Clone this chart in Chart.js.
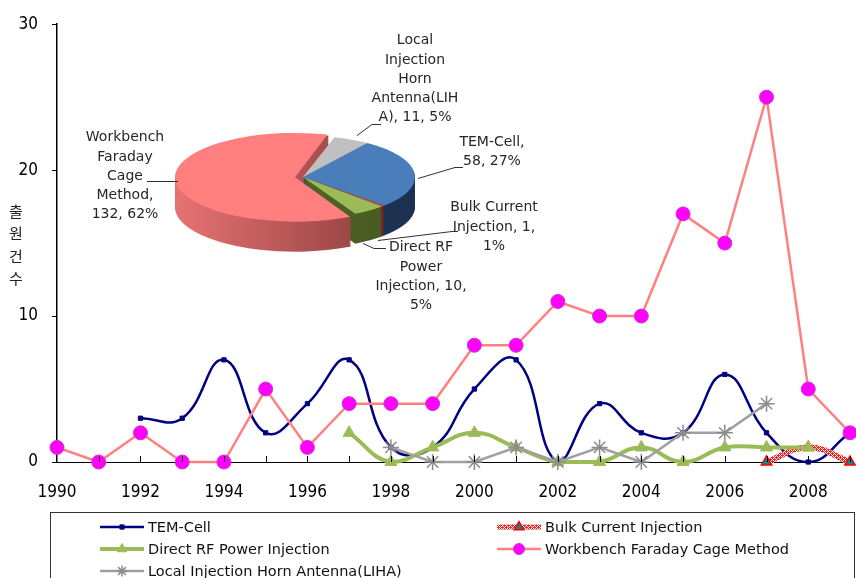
<!DOCTYPE html>
<html>
<head>
<meta charset="utf-8">
<script src="https://cdn.jsdelivr.net/npm/chart.js@4.4.1/dist/chart.umd.min.js"></script>
<style>
  html, body { margin: 0; padding: 0; background: #fff; }
  #wrap { position: relative; width: 856px; height: 578px; overflow: hidden; }
  canvas { position: absolute; left: 0; top: 0; }
  #pie { pointer-events: none; }
</style>
</head>
<body>
<div id="wrap">
  <canvas id="line" width="856" height="578"></canvas>
  <canvas id="pie" width="856" height="578"></canvas>
</div>
<script>
// ---- data ----
const years = ['1990','1991','1992','1993','1994','1995','1996','1997','1998','1999',
               '2000','2001','2002','2003','2004','2005','2006','2007','2008','2009'];
const temCell     = [null, null, 3, 3, 7, 2, 4, 7, 1, 1, 5, 7, 0, 4, 2, 2, 6, 2, 0, 2];
const bulkCurrent = [null, null, null, null, null, null, null, null, null, null,
                     null, null, null, null, null, null, null, 0, 1, 0];
const directRF    = [null, null, null, null, null, null, null, 2, 0, 1, 2, 1, 0, 0, 1, 0, 1, 1, 1, null];
const workbench   = [1, 0, 2, 0, 0, 5, 1, 4, 4, 4, 8, 8, 11, 10, 10, 17, 15, 25, 5, 2];
const liha        = [null, null, null, null, null, null, null, null, 1, 0, 0, 1, 0, 1, 0, 2, 2, 4, null, null];
const yTicks = [0, 10, 20, 30];
const yTitle = '출원건수';

const pieNames  = ['TEM-Cell', 'Bulk Current Injection', 'Direct RF Power Injection',
                   'Workbench Faraday Cage Method', 'Local Injection Horn Antenna(LIHA)'];
const pieCounts = [58, 1, 10, 132, 11];
const pieShares = [27, 1, 5, 62, 5];

// ---- styles ----
const TICK_FONT = "'Liberation Sans Narrow','DejaVu Sans Condensed','Liberation Sans',sans-serif";
const TEXT_FONT = "'DejaVu Sans',sans-serif";

function makeHatch() {
  const c = document.createElement('canvas');
  c.width = 4; c.height = 4;
  const g = c.getContext('2d');
  g.fillStyle = '#ffffff';
  g.fillRect(0, 0, 4, 4);
  g.fillStyle = '#ff1a1a';
  for (let y = 0; y < 4; y++) for (let x = 0; x < 4; x++) if ((x + y) % 2 === 0) g.fillRect(x, y, 1, 1);
  g.fillRect(0, 1, 1, 1); g.fillRect(2, 3, 1, 1);
  return g.createPattern(c, 'repeat');
}
const hatch = makeHatch();

// inside tick marks, stacked axis title and a two-column legend box
const lineExtras = {
  id: 'lineExtras',
  afterDraw(chart) {
    const ctx = chart.ctx;
    const xs = chart.scales.x;
    const area = chart.chartArea;
    ctx.save();
    ctx.strokeStyle = '#000';
    ctx.lineWidth = 1;
    for (let i = 1; i < years.length; i++) {
      const px = Math.round(xs.getPixelForValue(i)) + 0.5;
      ctx.beginPath();
      ctx.moveTo(px, area.bottom);
      ctx.lineTo(px, area.bottom - 6);
      ctx.stroke();
    }
    // vertical axis title, one syllable per line
    ctx.fillStyle = '#222';
    ctx.font = "15px 'Noto Sans CJK KR', sans-serif";
    ctx.textAlign = 'center';
    ctx.textBaseline = 'middle';
    [...yTitle].forEach((ch, i) => ctx.fillText(ch, 16, 211 + i * 22.5));

    // legend
    ctx.strokeStyle = '#333';
    ctx.strokeRect(50.5, 512.5, 804, 90);
    const slots = [[100, 527], [497, 527], [100, 549], [497, 549], [100, 571]];
    ctx.font = '14.5px ' + TEXT_FONT;
    ctx.textAlign = 'left';
    chart.data.datasets.forEach((ds, i) => {
      const [x, y] = slots[i];
      ctx.save();
      ctx.strokeStyle = ds.borderColor;
      ctx.lineWidth = Math.min(ds.borderWidth, 5);
      ctx.beginPath();
      ctx.moveTo(x, y); ctx.lineTo(x + 44, y);
      ctx.stroke();
      ctx.fillStyle = ds.pointBackgroundColor || ds.borderColor;
      ctx.strokeStyle = ds.pointBorderColor || ds.borderColor;
      ctx.lineWidth = ds.pointBorderWidth || 1;
      Chart.helpers.drawPoint(ctx, {
        pointStyle: ds.pointStyle, radius: Math.min(ds.pointRadius, 5.5),
        rotation: 0, borderWidth: ds.pointBorderWidth || 1
      }, x + 22, y);
      ctx.restore();
      ctx.fillStyle = '#111';
      ctx.fillText(ds.label, x + 48, y + 1);
    });
    ctx.restore();
  }
};

new Chart(document.getElementById('line'), {
  type: 'line',
  data: {
    labels: years,
    datasets: [
      { label: 'TEM-Cell', data: temCell, borderColor: '#000080', backgroundColor: '#000080',
        pointBackgroundColor: '#000080', pointBorderColor: '#000080',
        borderWidth: 2.5, tension: 0.45, pointStyle: 'rect', pointRadius: 3, pointBorderWidth: 1,
        order: 5, clip: false },
      { label: 'Bulk Current Injection', data: bulkCurrent, borderColor: hatch,
        borderWidth: 6, tension: 0.45, pointStyle: 'triangle', pointRadius: 6,
        pointBackgroundColor: '#008b8b', pointBorderColor: '#ff0000', pointBorderWidth: 1.5,
        order: 4, clip: false },
      { label: 'Direct RF Power Injection', data: directRF, borderColor: '#9BBB59', backgroundColor: '#9BBB59',
        pointBackgroundColor: '#9BBB59', pointBorderColor: '#9BBB59',
        borderWidth: 4, tension: 0.45, pointStyle: 'triangle', pointRadius: 7, pointBorderWidth: 1,
        order: 3, clip: false },
      { label: 'Workbench Faraday Cage Method', data: workbench, borderColor: '#FF8080',
        borderWidth: 2.5, tension: 0, pointStyle: 'circle', pointRadius: 7,
        pointBackgroundColor: '#FF00FF', pointBorderColor: '#CC33CC', pointBorderWidth: 1,
        order: 2, clip: false },
      { label: 'Local Injection Horn Antenna(LIHA)', data: liha, borderColor: '#A0A0A0',
        borderWidth: 2.5, tension: 0, pointStyle: 'star', pointRadius: 8,
        pointBackgroundColor: '#A0A0A0', pointBorderColor: '#8C8C8C', pointBorderWidth: 1.5,
        order: 1, clip: false }
    ]
  },
  options: {
    responsive: false,
    animation: false,
    events: [],
    layout: { autoPadding: false, padding: { top: 17, right: 6, left: 0, bottom: 0 } },
    plugins: { legend: { display: false }, tooltip: { enabled: false } },
    scales: {
      x: {
        grid: { display: true, drawOnChartArea: false, drawTicks: true, tickLength: 19, color: 'rgba(0,0,0,0)' },
        border: { display: true, color: '#000', width: 1 },
        ticks: {
          autoSkip: false, maxRotation: 0, padding: 1, color: '#000',
          font: { family: TICK_FONT, size: 17 },
          callback: (v, i) => (i % 2 === 0 ? years[i] : '')
        },
        afterFit: s => { s.height = 116; s.paddingLeft = 0; s.paddingRight = 0; }
      },
      y: {
        min: yTicks[0], max: yTicks[yTicks.length - 1],
        afterBuildTicks: s => { s.ticks = yTicks.map(v => ({ value: v })); },
        ticks: { padding: 14, color: '#000', font: { family: TICK_FONT, size: 17 } },
        grid: { drawOnChartArea: false, tickLength: 5, color: '#000' },
        border: { color: '#000', width: 1.5 },
        afterFit: s => { s.width = 57; }
      }
    }
  },
  plugins: [lineExtras]
});

// ---- 3D-looking pie inset ----
const PIE_CX = 303, PIE_CY = 177, PIE_R = 112, SQUISH = 0.37, DEPTH = 30;
const topColors = ['#4A7EBB', '#C0504D', '#9BBB59', '#FF7F7F', '#C0C0C0'];
const sideStops = [
  ['#2a4a75', '#1b2f4d'],
  ['#8b2a2a', '#6e1f1f'],
  ['#5d7330', '#45561f'],
  ['#e87474', '#7e3434'],
  ['#9a9a9a', '#777777']
];
const labelSpec = [
  { lines: ['TEM-Cell,', pieCounts[0] + ', ' + pieShares[0] + '%'], x: 492, y: [142, 161],
    leader: [[418, 178], [455, 167], [463, 167]] },
  { lines: ['Bulk Current', 'Injection, ' + pieCounts[1] + ',', pieShares[1] + '%'], x: 494, y: [207, 227, 246],
    leader: [[378, 240], [452, 231], [458, 231]] },
  { lines: ['Direct RF', 'Power', 'Injection, ' + pieCounts[2] + ',', pieShares[2] + '%'], x: 421, y: [247, 267, 286, 305],
    leader: [[363, 243], [374, 248], [386, 248]] },
  { lines: ['Workbench', 'Faraday', 'Cage', 'Method,', pieCounts[3] + ', ' + pieShares[3] + '%'], x: 125, y: [137, 157, 176, 195, 214],
    leader: [[147, 181], [178, 181]] },
  { lines: ['Local', 'Injection', 'Horn', 'Antenna(LIH', 'A), ' + pieCounts[4] + ', ' + pieShares[4] + '%'], x: 415, y: [40, 60, 79, 98, 117],
    leader: [[381, 124], [372, 124], [357, 135]] }
];

function arcGeom(a) {
  const off = (a.options.offset || 0) / 4;
  const half = (a.startAngle + a.endAngle) / 2;
  const circ = a.endAngle - a.startAngle;
  const fix = 1 - Math.sin(Math.min(Math.PI, circ));
  return { x: a.x + Math.cos(half) * off, y: a.y + Math.sin(half) * off,
           r: a.outerRadius + off * fix, s: a.startAngle, e: a.endAngle };
}
function squish(ctx, cx, cy) {
  ctx.translate(cx, cy);
  ctx.scale(1, SQUISH);
  ctx.translate(-cx, -cy);
}

const pie3d = {
  id: 'pie3d',
  beforeDatasetsDraw(chart) {
    const ctx = chart.ctx;
    const arcs = chart.getDatasetMeta(0).data;
    const cx = arcs[0].x, cy = arcs[0].y;
    const fills = sideStops.map(st => {
      const g = ctx.createLinearGradient(cx - PIE_R - 20, 0, cx + PIE_R + 10, 0);
      g.addColorStop(0, st[0]);
      g.addColorStop(1, st[1]);
      return g;
    });
    for (let d = DEPTH; d >= 1; d--) {
      arcs.forEach((a, i) => {
        const g = arcGeom(a);
        ctx.save();
        ctx.translate(0, d);
        squish(ctx, cx, cy);
        ctx.beginPath();
        ctx.moveTo(g.x, g.y);
        ctx.arc(g.x, g.y, g.r, g.s, g.e);
        ctx.closePath();
        ctx.fillStyle = fills[i];
        ctx.fill();
        ctx.restore();
      });
    }
    ctx.save();
    squish(ctx, cx, cy);
  },
  afterDatasetsDraw(chart) {
    chart.ctx.restore();
  },
  afterDraw(chart) {
    const ctx = chart.ctx;
    ctx.save();
    ctx.strokeStyle = '#303030';
    ctx.lineWidth = 1;
    ctx.fillStyle = '#262626';
    ctx.font = '14px ' + TEXT_FONT;
    ctx.textAlign = 'center';
    ctx.textBaseline = 'middle';
    labelSpec.forEach(spec => {
      ctx.beginPath();
      spec.leader.forEach((p, j) => (j ? ctx.lineTo(p[0], p[1] + 0.5) : ctx.moveTo(p[0], p[1] + 0.5)));
      ctx.stroke();
      spec.lines.forEach((t, j) => ctx.fillText(t, spec.x, spec.y[j]));
    });
    ctx.restore();
  }
};

new Chart(document.getElementById('pie'), {
  type: 'pie',
  data: {
    labels: pieNames,
    datasets: [{
      data: pieCounts,
      backgroundColor: topColors,
      borderWidth: 0,
      offset: [0, 0, 0, 32, 0],
      clip: false
    }]
  },
  options: {
    responsive: false,
    animation: false,
    events: [],
    rotation: 35,
    radius: PIE_R,
    layout: { autoPadding: false, padding: { left: 0, top: 0, right: 856 - 2 * PIE_CX, bottom: 578 - 2 * PIE_CY } },
    plugins: { legend: { display: false }, tooltip: { enabled: false } }
  },
  plugins: [pie3d]
});
</script>
</body>
</html>
